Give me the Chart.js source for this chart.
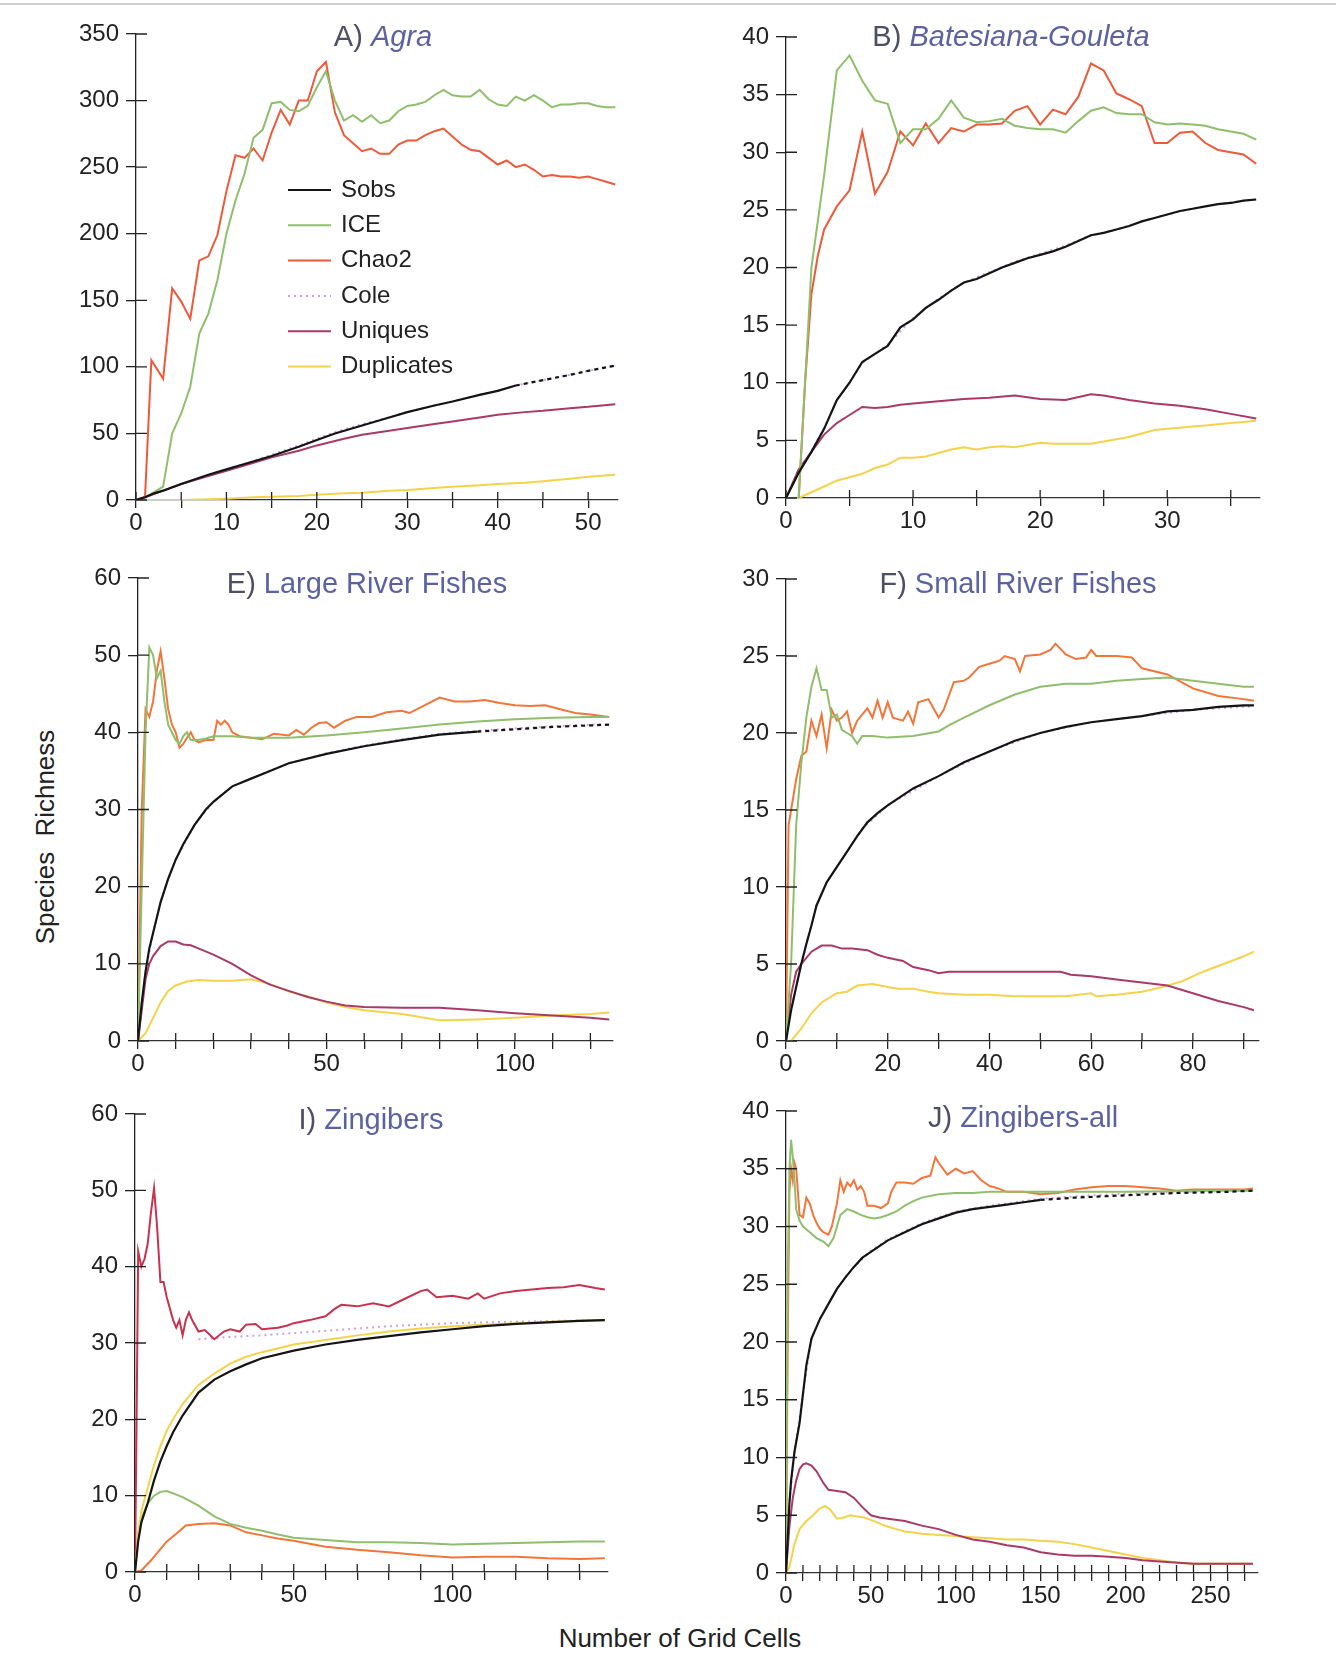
<!DOCTYPE html>
<html>
<head>
<meta charset="utf-8">
<script src="https://cdn.jsdelivr.net/npm/chart.js@4.4.1/dist/chart.umd.min.js"></script>
<style>
  body { margin: 0; background: #fff; width: 1336px; height: 1662px; position: relative; overflow: hidden;
         font-family: "Liberation Sans", Arial, sans-serif; color: #222; }
  canvas { position: absolute; }
  .topline { position: absolute; left: 0; top: 3px; width: 1336px; height: 2px; background: #cfcfcf; }
  .ytitle { position: absolute; left: 45px; top: 837px; font-size: 26px; white-space: nowrap; word-spacing: 8px;
            transform: translate(-50%, -50%) rotate(-90deg); }
  .xtitle { position: absolute; left: 680px; top: 1638px; font-size: 26px; white-space: nowrap;
            transform: translate(-50%, -50%); }
</style>
</head>
<body>
<div class="topline"></div>
<div class="ytitle">Species Richness</div>
<div class="xtitle">Number of Grid Cells</div>
<script>
// ---- A) Agra ----
const agraSobs = [[0,0],[1,2],[2,5],[3,7],[5,12],[8,19],[10,23],[12,27],[15,33],[18,40],[20,45],[22,50],[25,56],[28,62],[30,66],[33,71],[35,74],[38,79],[40,82],[42,86],[45,90],[48,94],[50,97],[53,101]];
const agraIce = [[0,0],[1,2],[2,6],[3,10],[4,50],[5,65],[6,85],[7,125],[8,140],[9,165],[10,200],[11,225],[12,245],[13,272],[14,278],[15,298],[16,299],[17,293],[18,292],[19,296],[20,310],[21,322],[22,300],[23,285],[24,289],[25,284],[26,289],[27,283],[28,285],[29,292],[30,296],[31,297],[32,299],[33,304],[34,308],[35,304],[36,303],[37,303],[38,308],[39,301],[40,297],[41,296],[42,303],[43,300],[44,304],[45,300],[46,295],[47,297],[48,297],[49,298],[50,298],[51,296],[52,295],[53,295]];
const agraChao2 = [[0,0],[1,2.5],[1.7,105],[3,91],[4,159],[5,149],[6,136],[7,180],[8,183],[9,199],[10,232],[11,259],[12,257],[13,264],[14,255],[15,276],[16,293],[17,282],[18,300],[19,300],[20,322],[21,329],[22,291],[23,274],[24,268],[25,262],[26,264],[27,260],[28,260],[29,267],[30,270],[31,270],[32,274],[33,277],[34,279],[35,273],[36,267],[37,263],[38,262],[39,257],[40,252],[41,255],[42,250],[43,252],[44,248],[45,243],[46,244],[47,243],[48,243],[49,242],[50,243],[51,241],[52,239],[53,237]];
const agraCole = [[0,0],[1,2],[2,5],[3,7],[5,12],[8,19],[10,23],[12,27],[15,34],[18,41],[20,46],[22,51],[25,57],[28,62],[30,66],[33,71],[35,74],[38,79],[40,82],[42,86],[45,90],[48,94],[50,97],[53,101]];
const agraUniques = [[0,0],[1,2],[3,7],[5,12],[8,18],[10,22],[13,28],[15,32],[18,37],[20,41],[23,46],[25,49],[28,52],[30,54],[33,57],[35,59],[38,62],[40,64],[43,66],[45,67],[48,69],[50,70],[53,72]];
const agraDuplicates = [[0,0],[5,0],[8,0.5],[10,1],[13,2],[15,2.5],[18,3],[20,4],[23,5],[25,5.5],[28,7],[30,7.5],[33,9],[35,10],[38,11],[40,12],[43,13],[45,14],[48,16],[50,17.5],[53,19]];
const agraXLabels = [0, 10, 20, 30, 40, 50];
const agraYLabels = [0, 50, 100, 150, 200, 250, 300, 350];

// ---- B) Batesiana-Gouleta ----
const bateSobs = [[0,0],[1,2.2],[2,4],[3,6],[4,8.5],[5,10],[6,11.8],[7,12.5],[8,13.2],[9,14.8],[10,15.5],[11,16.5],[12,17.2],[13,18],[14,18.7],[15,19],[16,19.5],[17,20],[18,20.4],[19,20.8],[20,21.1],[21,21.4],[22,21.8],[23,22.3],[24,22.8],[25,23],[26,23.3],[27,23.6],[28,24],[29,24.3],[30,24.6],[31,24.9],[32,25.1],[33,25.3],[34,25.5],[35,25.6],[36,25.8],[37,25.9]];
const bateIce = [[0,0],[1,0],[2,20],[3,28],[4,37.1],[5,38.4],[6,36.2],[7,34.5],[8,34.2],[9,30.8],[10,32],[11,32],[12,32.9],[13,34.5],[14,33],[15,32.6],[16,32.7],[17,32.9],[18,32.3],[19,32.1],[20,32],[21,32],[22,31.7],[23,32.7],[24,33.6],[25,33.9],[26,33.4],[27,33.3],[28,33.3],[29,32.6],[30,32.4],[31,32.5],[32,32.4],[33,32.3],[34,32],[35,31.8],[36,31.6],[37,31.1]];
const bateChao2 = [[0,0],[1,0],[1.5,10],[2,17.7],[2.5,21],[3,23.3],[4,25.3],[5,26.7],[6,31.8],[7,26.4],[8,28.3],[9,31.8],[10,30.6],[11,32.5],[12,30.8],[13,32.1],[14,31.8],[15,32.4],[16,32.4],[17,32.5],[18,33.6],[19,34],[20,32.4],[21,33.7],[22,33.3],[23,34.8],[24,37.7],[25,37.1],[26,35.1],[27,34.6],[28,34],[29,30.8],[30,30.8],[31,31.7],[32,31.8],[33,30.8],[34,30.2],[35,30],[36,29.8],[37,29]];
const bateCole = [[0,0],[1,2.3],[2,4.1],[3,6.1],[4,8.5],[5,10],[6,11.7],[8,13.3],[10,15.6],[12,17.3],[14,18.7],[16,19.6],[18,20.5],[20,21.2],[22,21.9],[24,22.8],[26,23.3],[28,24],[30,24.6],[32,25.1],[34,25.5],[36,25.8],[37,25.9]];
const bateUniques = [[0,0],[1,2.5],[2,4],[3,5.5],[4,6.5],[5,7.2],[6,7.9],[7,7.8],[8,7.9],[9,8.1],[10,8.2],[12,8.4],[14,8.6],[16,8.7],[18,8.9],[20,8.6],[22,8.5],[24,9],[25,8.9],[27,8.5],[29,8.2],[31,8],[33,7.7],[35,7.3],[37,6.9]];
const bateDuplicates = [[0,0],[1,0],[2,0.5],[3,1],[4,1.5],[5,1.8],[6,2.1],[7,2.6],[8,2.9],[9,3.5],[10,3.5],[11,3.6],[12,3.9],[13,4.2],[14,4.4],[15,4.2],[16,4.4],[17,4.5],[18,4.4],[19,4.6],[20,4.8],[21,4.7],[22,4.7],[23,4.7],[24,4.7],[25,4.9],[26,5.1],[27,5.3],[28,5.6],[29,5.9],[30,6],[31,6.1],[32,6.2],[33,6.3],[34,6.4],[35,6.5],[36,6.6],[37,6.7]];
const bateXLabels = [0, 10, 20, 30];
const bateYLabels = [0, 5, 10, 15, 20, 25, 30, 35, 40];

// ---- E) Large River Fishes ----
const largeSobs = [[0,0],[1,5],[2,9],[3,12],[4,14],[5,16],[6,18],[8,21],[10,23.5],[12,25.5],[15,28],[18,30],[20,31],[25,33],[30,34],[35,35],[40,36],[50,37.2],[60,38.2],[70,39],[80,39.7],[90,40.1],[100,40.4],[110,40.7],[120,40.9],[125,41]];
const largeIce = [[0,0],[1,20],[2,40],[3,51],[4,50],[5,47],[6,48],[7,44],[8,41],[10,39],[11,38.5],[12,39.5],[13,40],[14,39],[16,39],[18,39.2],[20,39.5],[25,39.5],[30,39.3],[40,39.3],[50,39.6],[60,40],[70,40.5],[80,41],[90,41.4],[100,41.7],[110,41.9],[120,42],[125,42]];
const largeChao2 = [[0,0],[1,30],[2,43],[3,42],[4,44],[5,48],[6,50.5],[7,47],[8,43],[9,41],[10,40],[11,38],[12,38.5],[13,39.3],[14,40],[15,39],[16,38.7],[18,39],[20,39],[21,41.5],[22,41],[23,41.5],[24,41],[25,40],[27,39.5],[30,39.3],[33,39.1],[36,39.8],[40,39.6],[42,40.3],[44,39.7],[46,40.6],[48,41.2],[50,41.3],[52,40.6],[55,41.5],[58,42],[62,42],[66,42.6],[70,42.8],[72,42.5],[76,43.5],[80,44.5],[84,44],[88,44],[92,44.2],[96,43.8],[100,43.5],[104,43.4],[108,43.5],[112,43],[116,42.5],[120,42.3],[125,42]];
const largeCole = [[0,0],[1,5],[2,9],[4,14],[6,18],[8,21],[10,23.5],[15,28],[20,31],[25,33],[30,34],[40,36],[50,37.3],[60,38.3],[70,39.1],[80,39.8],[90,40.2],[100,40.5],[110,40.8],[120,41],[125,41]];
const largeUniques = [[0,0],[1,4],[2,8],[3,10],[4,11],[6,12.3],[8,12.9],[10,12.9],[12,12.5],[14,12.4],[16,12],[20,11.2],[25,10],[30,8.5],[35,7.3],[40,6.5],[45,5.7],[50,5.1],[55,4.6],[60,4.4],[70,4.3],[80,4.3],[90,4],[100,3.6],[110,3.3],[120,3],[125,2.8]];
const largeDuplicates = [[0,0],[2,1],[4,3],[6,5],[8,6.5],[10,7.2],[13,7.7],[16,7.9],[20,7.8],[25,7.8],[30,8],[35,7.4],[40,6.4],[45,5.8],[50,5],[55,4.4],[60,4],[70,3.5],[80,2.7],[90,2.8],[100,3],[110,3.3],[120,3.5],[125,3.7]];
const largeXLabels = [0, 50, 100];
const largeYLabels = [0, 10, 20, 30, 40, 50, 60];

// ---- F) Small River Fishes ----
const smallSobs = [[0,0],[1,2],[2,3.5],[3,5],[4,6.3],[5,7.5],[6,8.8],[8,10.3],[10,11.3],[12,12.3],[14,13.3],[16,14.2],[18,14.8],[20,15.3],[25,16.4],[30,17.2],[35,18.1],[40,18.8],[45,19.5],[50,20],[55,20.4],[60,20.7],[65,20.9],[70,21.1],[75,21.4],[80,21.5],[85,21.7],[90,21.8],[92,21.8]];
const smallIce = [[0,0],[1,5],[2,14],[3,18],[4,21],[5,23],[6,24.2],[7,22.8],[8,22.8],[9,21],[10,21.2],[11,20.2],[12,20],[13,19.8],[14,19.3],[15,19.8],[17,19.8],[20,19.7],[25,19.8],[30,20.1],[32,20.5],[35,21],[40,21.8],[45,22.5],[50,23],[55,23.2],[60,23.2],[65,23.4],[70,23.5],[75,23.6],[80,23.4],[85,23.2],[90,23],[92,23]];
const smallChao2 = [[0,0],[0.5,14],[1,15],[2,17],[3,18.5],[4,18.8],[5,20.8],[6,19.8],[7,21.2],[8,19],[9,21.5],[10,20.8],[11,21],[12,21.4],[13,20],[14,20.8],[16,21.6],[17,21],[18,22.1],[19,21],[20,22],[21,21],[23,20.8],[24,21.4],[25,20.6],[26,22],[28,22.2],[30,21],[31,21.5],[33,23.3],[35,23.4],[36,23.6],[38,24.3],[40,24.5],[42,24.7],[43,25],[45,24.8],[46,24],[47,25],[50,25.1],[52,25.4],[53,25.8],[55,25.1],[57,24.8],[59,24.9],[60,25.4],[61,25],[65,25],[68,24.9],[70,24.2],[75,23.8],[80,22.9],[85,22.4],[90,22.2],[92,22.1]];
const smallCole = [[0,0],[1,2],[2,3.5],[4,6.3],[6,8.8],[8,10.3],[10,11.3],[15,13.8],[20,15.3],[30,17.2],[40,18.8],[50,20],[60,20.7],[70,21.1],[80,21.5],[90,21.7],[92,21.7]];
const smallUniques = [[0,0],[1,3],[2,4.5],[3,5],[5,5.8],[7,6.2],[9,6.2],[11,6],[13,6],[16,5.9],[18,5.6],[20,5.4],[23,5.2],[25,4.8],[28,4.6],[30,4.4],[32,4.5],[35,4.5],[40,4.5],[45,4.5],[50,4.5],[54,4.5],[56,4.3],[60,4.2],[65,4],[70,3.8],[75,3.6],[80,3.1],[85,2.6],[90,2.2],[92,2]];
const smallDuplicates = [[0,0],[1,0],[3,0.8],[5,1.8],[7,2.5],[10,3.1],[12,3.2],[14,3.6],[17,3.7],[20,3.5],[22,3.4],[25,3.4],[28,3.2],[30,3.1],[35,3],[40,3],[45,2.9],[50,2.9],[55,2.9],[60,3.1],[61,2.9],[65,3],[70,3.2],[74,3.5],[78,3.9],[82,4.5],[86,5],[90,5.5],[92,5.8]];
const smallXLabels = [0, 20, 40, 60, 80];
const smallYLabels = [0, 5, 10, 15, 20, 25, 30];

// ---- I) Zingibers ----
const zingSobs = [[0,0],[1,4],[2,6.5],[4,9],[6,12],[8,14.5],[10,16.5],[12,18.3],[15,20.5],[20,23.5],[25,25.2],[30,26.3],[35,27.2],[40,28],[50,29],[60,29.8],[70,30.4],[80,30.9],[90,31.4],[100,31.8],[110,32.2],[120,32.5],[130,32.7],[140,32.9],[148,33]];
const zingIce = [[0,0],[1,5],[2,8],[4,11],[6,14],[8,16.5],[10,18.5],[12,20],[15,22],[20,24.5],[25,26],[30,27.3],[35,28.2],[40,28.8],[50,29.8],[60,30.4],[70,31],[80,31.5],[90,31.9],[100,32.2],[110,32.4],[120,32.6],[130,32.8],[140,32.9],[148,33]];
const zingChao2 = [[0,0],[0.5,20],[1,42],[2,40],[3,41],[4,43],[5,47],[6,50.3],[7,45],[8,38],[9,38],[10,36],[12,33],[13,32],[14,33],[15,31],[16,33],[17,34],[18,33],[20,31.5],[22,31.7],[25,30.5],[28,31.5],[30,31.8],[33,31.5],[35,32.4],[38,32.5],[40,31.8],[45,32],[48,32.3],[50,32.6],[55,33],[60,33.5],[63,34.5],[65,35],[70,34.8],[75,35.2],[80,34.8],[85,35.8],[90,36.8],[92,37],[95,36],[100,36.2],[105,35.8],[108,36.5],[110,35.8],[115,36.5],[120,36.8],[125,37],[130,37.2],[135,37.3],[140,37.6],[145,37.2],[148,37]];
const zingCole = [[20,30.5],[30,30.8],[40,31],[50,31.3],[60,31.6],[70,31.9],[80,32.2],[90,32.4],[100,32.6],[120,32.8],[148,33]];
const zingUniques = [[0,0],[1,5],[2,7],[4,9],[6,10],[8,10.5],[10,10.6],[12,10.3],[15,9.8],[20,8.7],[25,7.3],[30,6.3],[35,5.8],[40,5.4],[45,4.9],[50,4.5],[60,4.2],[70,3.9],[80,3.9],[90,3.8],[100,3.6],[110,3.7],[120,3.8],[130,3.9],[140,4],[148,4]];
const zingDuplicates = [[0,0],[2,0.2],[5,1.5],[8,3],[10,4],[13,5],[16,6.1],[20,6.3],[25,6.4],[30,6.1],[35,5.2],[40,4.8],[45,4.4],[50,4.1],[55,3.7],[60,3.3],[70,2.9],[80,2.6],[90,2.2],[100,1.9],[110,2],[120,2],[130,1.8],[140,1.7],[148,1.8]];
const zingXLabels = [0, 50, 100];
const zingYLabels = [0, 10, 20, 30, 40, 50, 60];

// ---- J) Zingibers-all ----
const zingAllSobs = [[0,0],[1,3],[2,6],[3,8],[5,10.5],[8,13],[10,15.5],[12,18],[15,20.3],[20,22],[25,23.3],[30,24.6],[35,25.6],[40,26.5],[45,27.3],[50,27.8],[55,28.3],[60,28.8],[70,29.5],[80,30.2],[90,30.7],[100,31.2],[110,31.5],[120,31.7],[130,31.9],[140,32.1],[150,32.3],[170,32.5],[200,32.7],[230,32.9],[260,33],[275,33.1]];
const zingAllIce = [[0,0],[1,25],[2,35],[3,37.5],[4,36],[5,34],[6,31.5],[8,30.5],[10,30],[14,29.5],[18,29],[22,28.7],[25,28.3],[28,29],[32,31],[36,31.5],[40,31.3],[44,31],[48,30.8],[52,30.7],[56,30.8],[60,31],[65,31.3],[70,31.8],[75,32.2],[80,32.5],[90,32.8],[100,32.9],[110,32.9],[120,33],[150,33],[200,33],[250,33.1],[275,33.1]];
const zingAllChao2 = [[0,0],[1,20],[2,33],[3,35],[4,34],[5,35.5],[6,35],[7,33],[8,31],[10,30.8],[12,32.5],[14,32],[16,31],[18,30.3],[20,29.8],[22,29.5],[25,29.3],[27,30],[30,32],[32,34],[34,33],[36,33.8],[38,33.5],[40,34],[42,33.2],[44,33.5],[46,33],[48,31.8],[52,31.8],[56,31.6],[60,32],[62,33],[65,33.8],[70,33.8],[75,33.7],[80,34.2],[85,34.4],[88,36],[90,35.5],[95,34.5],[100,35],[105,34.6],[110,34.8],[115,34],[120,33.5],[125,33.3],[130,33],[140,33],[150,32.8],[160,32.9],[170,33.2],[180,33.4],[190,33.5],[200,33.5],[210,33.4],[220,33.3],[230,33.1],[240,33.2],[250,33.2],[260,33.2],[270,33.2],[275,33.3]];
const zingAllCole = [[0,0],[2,6],[5,10.5],[10,15.5],[15,20.3],[20,22],[30,24.6],[40,26.5],[50,27.9],[60,28.9],[80,30.3],[100,31.3],[120,31.8],[150,32.4],[180,32.7],[210,32.9],[240,33],[275,33.1]];
const zingAllUniques = [[0,0],[2,4],[4,6.5],[6,8],[8,9],[10,9.4],[12,9.5],[15,9.3],[18,8.8],[22,7.8],[25,7.2],[30,7.1],[35,7],[40,6.5],[45,5.7],[50,5],[55,4.8],[60,4.7],[70,4.5],[80,4.1],[90,3.8],[100,3.3],[110,2.9],[120,2.7],[130,2.4],[140,2.2],[150,1.8],[160,1.6],[170,1.5],[180,1.5],[190,1.4],[200,1.3],[210,1.1],[220,1],[240,0.8],[260,0.8],[275,0.8]];
const zingAllDuplicates = [[0,0],[2,0.5],[5,2.5],[8,3.8],[12,4.5],[16,5],[20,5.6],[23,5.8],[26,5.5],[30,4.7],[34,4.8],[38,5],[42,4.9],[46,4.8],[50,4.6],[55,4.3],[60,4],[65,3.8],[70,3.6],[75,3.5],[80,3.4],[90,3.3],[100,3.2],[110,3.1],[120,3],[130,2.9],[140,2.9],[150,2.8],[160,2.7],[170,2.5],[180,2.2],[190,1.9],[200,1.6],[210,1.3],[220,1.1],[230,0.9],[240,0.8],[260,0.8],[275,0.8]];
const zingAllXLabels = [0, 50, 100, 150, 200, 250];
const zingAllYLabels = [0, 5, 10, 15, 20, 25, 30, 35, 40];

// colours
const C = {
  sobs: '#141414', ice: '#8fbe6c', chao2: '#ec5a3a', orange: '#f2763a', cole: '#c7a3dc',
  uniques: '#a93a68', duplicates: '#f5d24c', crimson: '#c8324e'
};
const FONT = '"Liberation Sans", Arial, sans-serif';

function series(sobs, ice, chao2, cole, uniques, dups, col) {
  return [
    { label: 'Sobs', data: sobs, color: C.sobs },
    { label: 'ICE', data: ice, color: col.ice },
    { label: 'Chao2', data: chao2, color: col.chao2 },
    { label: 'Cole', data: cole, color: C.cole, dash: [2, 4] },
    { label: 'Uniques', data: uniques, color: col.uniques },
    { label: 'Duplicates', data: dups, color: col.dups }
  ];
}
const std = { ice: C.ice, chao2: C.chao2, uniques: C.uniques, dups: C.duplicates };
const orng = { ice: C.ice, chao2: C.orange, uniques: C.uniques, dups: C.duplicates };

const panels = [
  { box: [136, 34, 618, 500], xMax: 53.3, xStep: 5, xLabels: agraXLabels, yMax: 350, yStep: 50, yLabels: agraYLabels,
    title: ['A) ', 'Agra', true], titleAt: [383, 38], dashFrom: 42, legend: [288, 190, 35.3],
    ds: series(agraSobs, agraIce, agraChao2, agraCole, agraUniques, agraDuplicates, std) },
  { box: [786, 37, 1260, 498], xMax: 37.3, xStep: 5, xLabels: bateXLabels, yMax: 40, yStep: 5, yLabels: bateYLabels,
    title: ['B) ', 'Batesiana-Gouleta', true], titleAt: [1011, 38], dashFrom: null,
    ds: series(bateSobs, bateIce, bateChao2, bateCole, bateUniques, bateDuplicates, std) },
  { box: [138, 578, 613, 1041], xMax: 126, xStep: 10, xLabels: largeXLabels, yMax: 60, yStep: 10, yLabels: largeYLabels,
    title: ['E) ', 'Large River Fishes', false], titleAt: [367, 585], dashFrom: 90,
    ds: series(largeSobs, largeIce, largeChao2, largeCole, largeUniques, largeDuplicates, orng) },
  { box: [786, 579, 1259, 1041], xMax: 93, xStep: 10, xLabels: smallXLabels, yMax: 30, yStep: 5, yLabels: smallYLabels,
    title: ['F) ', 'Small River Fishes', false], titleAt: [1018, 585], dashFrom: null,
    ds: series(smallSobs, smallIce, smallChao2, smallCole, smallUniques, smallDuplicates, orng) },
  { box: [135, 1114, 608, 1572], xMax: 149, xStep: 10, xLabels: zingXLabels, yMax: 60, yStep: 10, yLabels: zingYLabels,
    title: ['I) ', 'Zingibers', false], titleAt: [371, 1121], dashFrom: null,
    ds: series(zingSobs, zingIce, zingChao2, zingCole, zingUniques, zingDuplicates,
               { ice: C.duplicates, chao2: C.crimson, uniques: C.ice, dups: C.orange }) },
  { box: [786, 1111, 1258, 1573], xMax: 278, xStep: 10, xLabels: zingAllXLabels, yMax: 40, yStep: 5, yLabels: zingAllYLabels,
    title: ['J) ', 'Zingibers-all', false], titleAt: [1023, 1119], dashFrom: 150,
    ds: series(zingAllSobs, zingAllIce, zingAllChao2, zingAllCole, zingAllUniques, zingAllDuplicates, orng) }
];

// ticks that cross the axis: inner half drawn here, outer half by the grid
const crossTicks = {
  id: 'crossTicks',
  afterDraw(chart) {
    const { ctx, chartArea } = chart;
    const xs = chart.scales.x, ys = chart.scales.y;
    ctx.save();
    ctx.strokeStyle = '#222';
    ctx.lineWidth = 1.3;
    ctx.beginPath();
    xs.ticks.forEach((t, i) => {
      const px = xs.getPixelForTick(i);
      ctx.moveTo(px, chartArea.bottom);
      ctx.lineTo(px, chartArea.bottom - 8);
    });
    ys.ticks.forEach((t, i) => {
      const py = ys.getPixelForTick(i);
      ctx.moveTo(chartArea.left, py);
      ctx.lineTo(chartArea.left + 11, py);
    });
    ctx.stroke();
    ctx.restore();
  }
};

const panelTitle = {
  id: 'panelTitle',
  afterDraw(chart, args, o) {
    const ctx = chart.ctx;
    const f1 = '29px ' + FONT;
    const f2 = (o.italic ? 'italic ' : '') + f1;
    ctx.save();
    ctx.textBaseline = 'middle';
    ctx.font = f1;
    const w1 = ctx.measureText(o.prefix).width;
    ctx.font = f2;
    const w2 = ctx.measureText(o.name).width;
    const x0 = o.x - (w1 + w2) / 2;
    ctx.font = f1;
    ctx.fillStyle = '#4e4e66';
    ctx.fillText(o.prefix, x0, o.y);
    ctx.font = f2;
    ctx.fillStyle = '#5c62a0';
    ctx.fillText(o.name, x0 + w1, o.y);
    ctx.restore();
  }
};

const lineLegend = {
  id: 'lineLegend',
  afterDraw(chart, args, o) {
    if (!o.show) return;
    const ctx = chart.ctx;
    ctx.save();
    ctx.font = '24px ' + FONT;
    ctx.textBaseline = 'middle';
    chart.data.datasets.forEach((d, i) => {
      const y = o.y + i * o.gap;
      ctx.strokeStyle = d.borderColor;
      ctx.lineWidth = 2;
      ctx.setLineDash(d.borderDash || []);
      ctx.beginPath();
      ctx.moveTo(o.x, y);
      ctx.lineTo(o.x + 43, y);
      ctx.stroke();
      ctx.setLineDash([]);
      ctx.fillStyle = '#222';
      ctx.fillText(d.label, o.x + 53, y);
    });
    ctx.restore();
  }
};

const PAD_L = 80, PAD_T = 22, PAD_R = 22, PAD_B = 50;

panels.forEach(p => {
  const [l, t, r, b] = p.box;
  const cl = l - PAD_L, ct = t - PAD_T;
  const cv = document.createElement('canvas');
  cv.width = r - l + PAD_L + PAD_R;
  cv.height = b - t + PAD_T + PAD_B;
  cv.style.left = cl + 'px';
  cv.style.top = ct + 'px';
  document.body.appendChild(cv);

  const datasets = p.ds.map(s => {
    const d = {
      label: s.label, data: s.data, borderColor: s.color, backgroundColor: s.color,
      borderWidth: s.label === 'Sobs' ? 2.2 : 2, pointRadius: 0, tension: 0, fill: false
    };
    if (s.dash) d.borderDash = s.dash;
    if (s.label === 'Sobs' && p.dashFrom !== null) {
      const from = p.dashFrom;
      d.segment = { borderDash: c => (c.p0.parsed.x >= from ? [4, 4] : undefined) };
    }
    return d;
  });

  new Chart(cv.getContext('2d'), {
    type: 'line',
    data: { datasets },
    options: {
      responsive: false,
      animation: false,
      devicePixelRatio: 1,
      parsing: true,
      layout: { padding: { left: 0, top: PAD_T, right: PAD_R, bottom: 0 } },
      scales: {
        x: {
          type: 'linear', min: 0, max: p.xMax,
          afterFit: s => { s.height = PAD_B; },
          border: { color: '#333', width: 1.3, dash: [6, 3] },
          grid: { drawOnChartArea: false, drawTicks: true, tickLength: 8, color: '#222', lineWidth: 1.3 },
          ticks: {
            stepSize: p.xStep, includeBounds: false, autoSkip: false, maxRotation: 0, padding: 1,
            color: '#222', font: { family: FONT, size: 24 },
            callback: v => (p.xLabels.includes(v) ? String(v) : '')
          }
        },
        y: {
          type: 'linear', min: 0, max: p.yMax,
          afterFit: s => { s.width = PAD_L; },
          border: { color: '#222', width: 1.3 },
          grid: { drawOnChartArea: false, drawTicks: true, tickLength: 10, color: '#222', lineWidth: 1.3 },
          ticks: {
            stepSize: p.yStep, includeBounds: false, autoSkip: false, padding: 7,
            color: '#222', font: { family: FONT, size: 24 },
            callback: v => (p.yLabels.includes(v) ? String(v) : '')
          }
        }
      },
      plugins: {
        legend: { display: false },
        tooltip: { enabled: false },
        panelTitle: { prefix: p.title[0], name: p.title[1], italic: p.title[2], x: p.titleAt[0] - cl, y: p.titleAt[1] - ct },
        lineLegend: p.legend ? { show: true, x: p.legend[0] - cl, y: p.legend[1] - ct, gap: p.legend[2] } : { show: false }
      }
    },
    plugins: [crossTicks, panelTitle, lineLegend]
  });
});
</script>
</body>
</html>
